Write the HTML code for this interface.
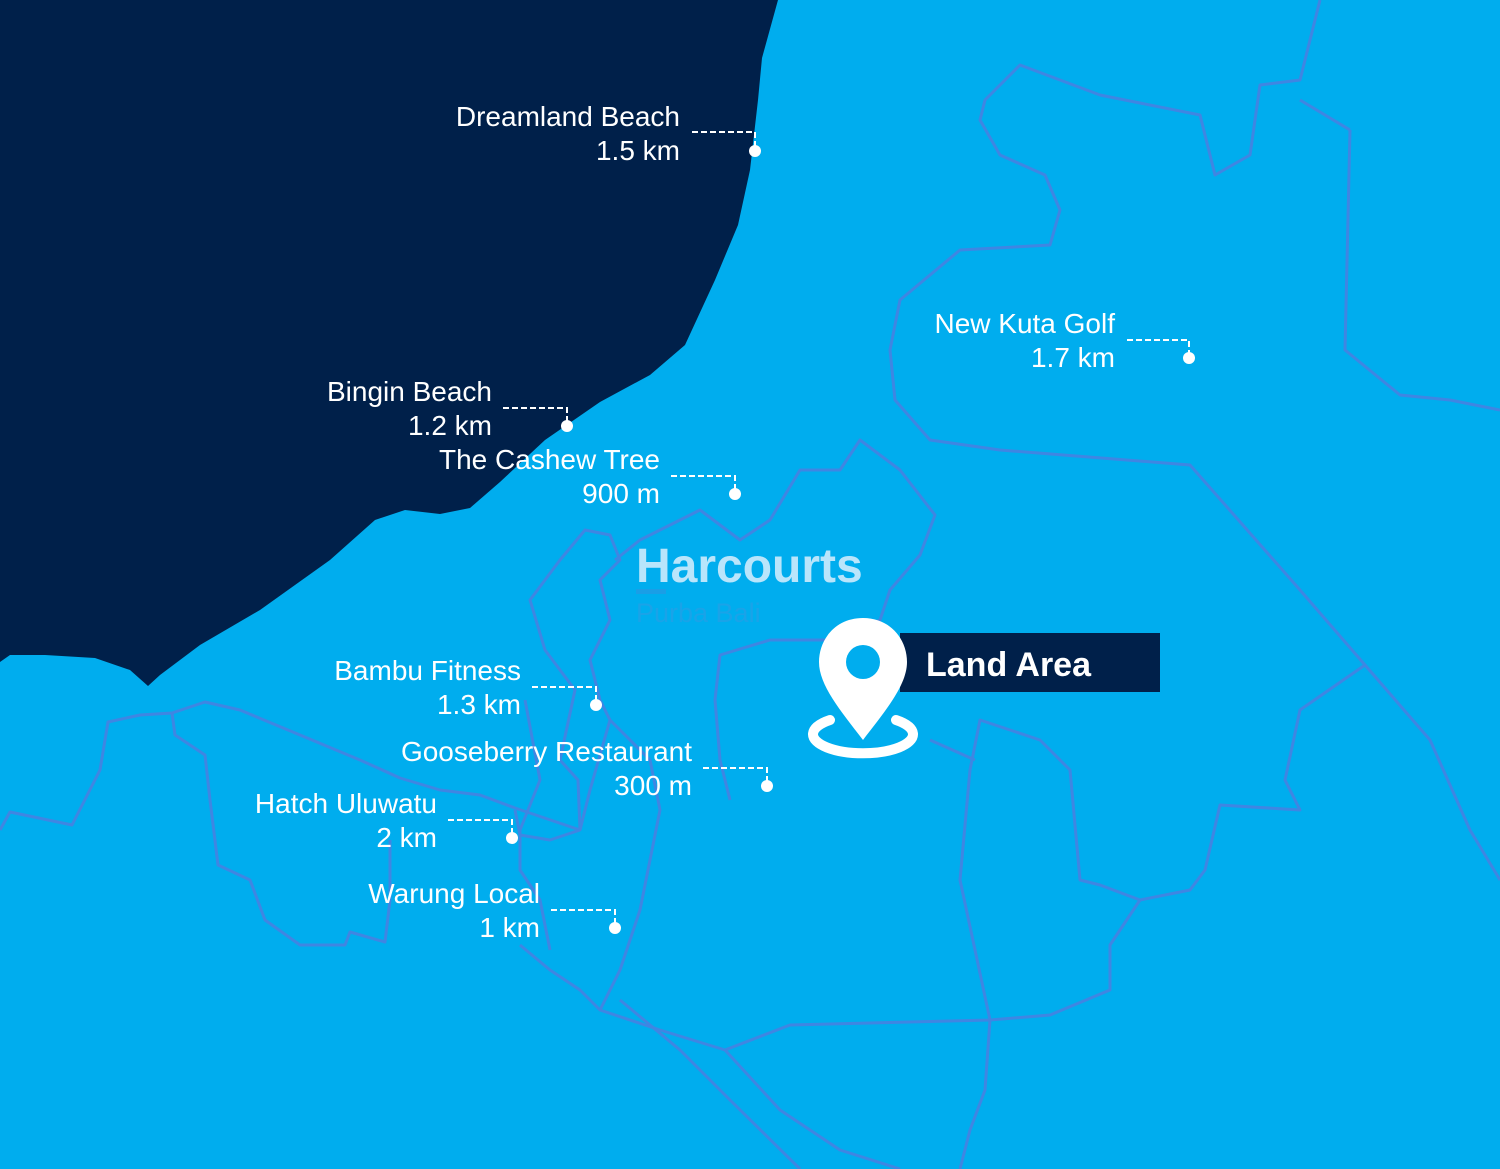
<!DOCTYPE html>
<html><head><meta charset="utf-8"><style>
html,body{margin:0;padding:0;background:#00adee;}
svg{display:block}
text{font-family:"Liberation Sans",sans-serif;}
</style></head><body>
<svg width="1500" height="1169" viewBox="0 0 1500 1169" xmlns="http://www.w3.org/2000/svg">
<rect width="1500" height="1169" fill="#00adee"/>
<g fill="none" stroke="#3f86e2" stroke-width="3" stroke-linejoin="round">
<path d="M0,830 L10,812 L72,825 L100,770 L108,722 L140,715 L172,713 L205,702 L240,710 L300,735 L360,760 L400,778 L440,790 L480,795 L515,808 L580,830"/>
<path d="M172,713 L175,735 L205,755 L210,800 L218,865 L250,880 L265,920 L300,945 L345,945 L350,932 L385,942 L390,900 L390,840"/>
<path d="M1320,0 L1300,80 L1260,85 L1250,155 L1215,175 L1200,115 L1100,95 L1020,65 L985,100 L980,120 L1000,155 L1045,175 L1060,210 L1050,245 L960,250 L900,300 L890,350 L895,400 L930,440 L1000,450 L1190,465 L1300,590 L1365,665 L1430,740 L1470,830 L1500,880"/>
<path d="M1350,130 L1300,100 M1350,130 L1345,350 L1400,395 L1450,400 L1500,410"/>
<path d="M1365,665 L1300,710 L1285,780 L1300,810 L1220,805 L1205,870 L1190,890 L1140,900 L1100,885 L1080,880 L1070,770 L1040,740 L980,720 L970,770 L960,880 L975,950 L990,1020 L985,1090 L970,1130 L960,1169"/>
<path d="M1140,900 L1110,945 L1110,990 L1050,1015 L990,1020 L790,1025 L725,1050 L660,1030 L600,1010 L580,990 L550,970 L520,945"/>
<path d="M725,1050 L780,1110 L840,1150 L900,1169"/>
<path d="M620,1000 L680,1050 L730,1100 L800,1169"/>
<path d="M930,740 L975,760"/>
<path d="M580,830 L578,780 L560,760 L575,690 L545,650 L530,600 L560,560 L585,530 L610,535 L620,560 L600,580 L610,620 L590,660 L600,700 L610,720 L590,790 L580,830 L550,840 L520,835 L515,810"/>
<path d="M525,700 L540,780 L520,830 L520,870 L540,900 L550,950 M610,720 L650,760 L660,810 L650,860 L640,910 L620,970 L600,1010"/>
<path d="M615,560 L640,540 L680,520 L700,510 L740,540 L770,520 L800,470 L840,470 L860,440 L900,470 L935,515 L920,555 L890,590 L880,620 L830,640 L770,640 L720,655 L715,700 L720,760 L730,800"/>
</g>
<path fill="#00204a" d="M0,0 L778,0 L762,58 L758,100 L750,170 L738,225 L715,280 L685,345 L650,375 L600,402 L545,440 L500,482 L470,508 L440,514 L405,510 L375,520 L330,560 L260,610 L200,645 L160,675 L148,686 L130,670 L95,658 L45,655 L10,655 L0,662 Z"/>
<g fill="#ffffff" font-size="28" text-anchor="end">
<text x="680" y="126">Dreamland Beach</text><text x="680" y="160">1.5 km</text>
<text x="1115" y="333">New Kuta Golf</text><text x="1115" y="367">1.7 km</text>
<text x="492" y="401">Bingin Beach</text><text x="492" y="435">1.2 km</text>
<text x="660" y="469">The Cashew Tree</text><text x="660" y="503">900 m</text>
<text x="521" y="680">Bambu Fitness</text><text x="521" y="714">1.3 km</text>
<text x="692" y="761">Gooseberry Restaurant</text><text x="692" y="795">300 m</text>
<text x="437" y="813">Hatch Uluwatu</text><text x="437" y="847">2 km</text>
<text x="540" y="903">Warung Local</text><text x="540" y="937">1 km</text>
</g>
<g stroke="#ffffff" stroke-width="2" fill="none" stroke-dasharray="6,3">
<path d="M692,132 H755 V146"/><path d="M1127,340 H1189 V353"/><path d="M503,408 H567 V421"/>
<path d="M671,476 H735 V489"/><path d="M532,687 H596 V700"/><path d="M703,768 H767 V781"/>
<path d="M448,820 H512 V833"/><path d="M551,910 H615 V923"/>
</g>
<g fill="#ffffff">
<circle cx="755" cy="151" r="6"/><circle cx="1189" cy="358" r="6"/><circle cx="567" cy="426" r="6"/>
<circle cx="735" cy="494" r="6"/><circle cx="596" cy="705" r="6"/><circle cx="767" cy="786" r="6"/>
<circle cx="512" cy="838" r="6"/><circle cx="615" cy="928" r="6"/>
</g>
<text x="636" y="582" font-size="48" font-weight="bold" fill="#b9e5fb">Harcourts</text>
<rect x="636" y="589" width="30" height="5" fill="#1a9ee6"/>
<text x="636" y="622" font-size="27" fill="#1aa3e8">Purba Bali</text>
<rect x="900" y="633" width="260" height="59" fill="#00204a"/>
<text x="926" y="676" font-size="34" font-weight="bold" fill="#ffffff">Land Area</text>
<path d="M830,720 A50,19 0 1 0 896,720" fill="none" stroke="#ffffff" stroke-width="10" stroke-linecap="round"/>
<path d="M863,618 C835,618 819,640 819,662 C819,685 840,710 863,740 C886,710 907,685 907,662 C907,640 891,618 863,618 Z" fill="#ffffff"/>
<circle cx="863" cy="662" r="17" fill="#00adee"/>
</svg>
</body></html>
